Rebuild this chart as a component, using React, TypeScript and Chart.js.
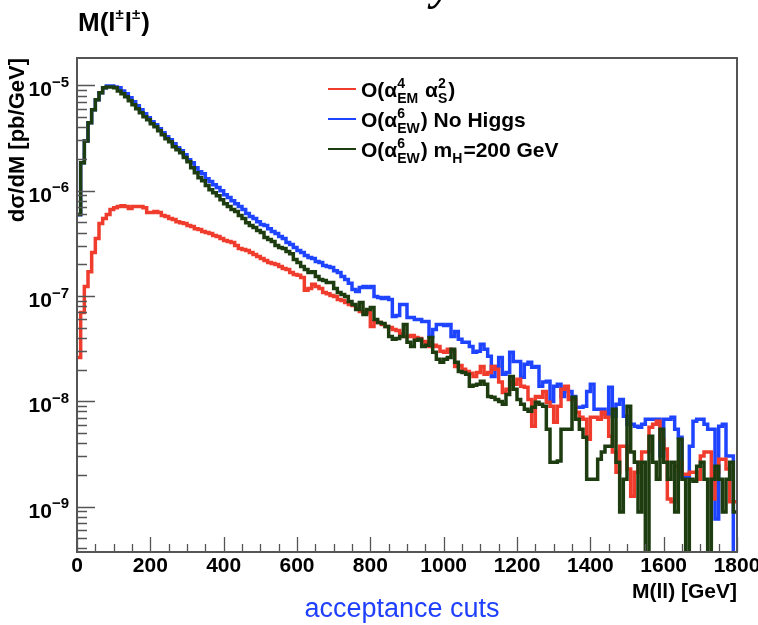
import React, { useEffect, useRef } from 'react';
import { Chart, registerables } from 'chart.js';

Chart.register(...registerables);

// ---------------- data ----------------
const MASS_MIN = 0; // GeV
const MASS_MAX = 1800; // GeV
const BIN_WIDTH = 10; // GeV
const Y_MIN = 3.7e-10;
const Y_MAX = 1.82e-5;

const xTickStep = 200;
const xMinorStep = 50;
const yDecades = [-9, -8, -7, -6, -5];

// O(alpha_EM^4 alpha_S^2)  (red)
const qcdValues = [
  2.61e-8, 6.98e-8, 1.23e-7, 1.70e-7, 2.58e-7, 3.51e-7, 4.87e-7, 5.43e-7, 5.93e-7, 6.61e-7,
  6.90e-7, 7.06e-7, 7.21e-7, 7.06e-7, 6.76e-7, 7.06e-7, 7.06e-7, 7.06e-7, 6.90e-7, 6.20e-7,
  6.20e-7, 6.33e-7, 6.20e-7, 5.80e-7, 5.68e-7, 5.43e-7, 5.31e-7, 5.08e-7, 4.97e-7, 4.87e-7,
  4.66e-7, 4.56e-7, 4.36e-7, 4.27e-7, 4.09e-7, 4.00e-7, 3.91e-7, 3.75e-7, 3.67e-7, 3.51e-7,
  3.36e-7, 3.29e-7, 3.22e-7, 3.01e-7, 2.82e-7, 2.76e-7, 2.70e-7, 2.58e-7, 2.47e-7, 2.37e-7,
  2.27e-7, 2.17e-7, 2.08e-7, 2.03e-7, 1.99e-7, 1.90e-7, 1.82e-7, 1.78e-7, 1.67e-7, 1.60e-7,
  1.57e-7, 1.50e-7, 1.13e-7, 1.18e-7, 1.29e-7, 1.23e-7, 1.18e-7, 1.08e-7, 1.05e-7, 1.01e-7,
  9.86e-8, 9.27e-8, 9.07e-8, 8.69e-8, 8.31e-8, 8.13e-8, 7.62e-8, 7.13e-8, 6.98e-8, 6.98e-8,
  5.14e-8, 5.73e-8, 5.61e-8, 5.37e-8, 5.14e-8, 5.03e-8, 4.81e-8, 4.71e-8, 4.41e-8, 4.13e-8,
  4.13e-8, 4.22e-8, 4.04e-8, 3.95e-8, 3.70e-8, 3.63e-8, 3.32e-8, 3.40e-8, 3.32e-8, 2.98e-8,
  2.92e-8, 3.11e-8, 2.98e-8, 2.14e-8, 2.19e-8, 2.01e-8, 1.92e-8, 1.84e-8, 1.72e-8, 1.88e-8,
  2.14e-8, 1.80e-8, 1.88e-8, 2.14e-8, 2.01e-8, 1.52e-8, 1.21e-8, 1.30e-8, 1.55e-8, 1.45e-8,
  1.62e-8, 1.39e-8, 1.36e-8, 1.04e-8, 5.79e-9, 1.11e-8, 1.09e-8, 1.24e-8, 9.79e-9, 8.97e-9,
  6.32e-9, 8.97e-9, 1.30e-8, 1.39e-8, 1.04e-8, 1.04e-8, 7.87e-9, 7.05e-9, 6.75e-9, 4.36e-9,
  7.05e-9, 7.05e-9, 6.75e-9, 7.87e-9, 7.05e-9, 4.66e-9, 3.29e-9, 2.12e-9, 3.74e-9, 3.74e-9,
  2.27e-9, 1.25e-9, 2.12e-9, 2.64e-9, 3.29e-9, 3.29e-9, 5.67e-9, 6.05e-9, 6.46e-9, 4.36e-9,
  3.51e-9, 1.18e-9, 1.11e-9, 2.42e-9, 2.64e-9, 2.03e-9, 2.03e-9, 2.12e-9, 2.12e-9, 1.82e-9,
  3.02e-9, 3.29e-9, 3.29e-9, 1.18e-9, 2.12e-9, 2.82e-9, 2.82e-9, 2.27e-9, 1.11e-9, 1.11e-9,
];

// O(alpha_EW^6) No Higgs  (blue)
const ewNoHiggsValues = [
  5.9e-7, 1.84e-6, 2.97e-6, 4.41e-6, 5.87e-6, 7.29e-6, 8.50e-6, 9.47e-6, 9.88e-6, 9.88e-6,
  9.67e-6, 9.47e-6, 8.86e-6, 8.31e-6, 7.62e-6, 6.98e-6, 6.40e-6, 5.87e-6, 5.37e-6, 4.92e-6,
  4.51e-6, 4.22e-6, 3.87e-6, 3.55e-6, 3.25e-6, 3.04e-6, 2.79e-6, 2.56e-6, 2.40e-6, 2.19e-6,
  1.97e-6, 1.84e-6, 1.65e-6, 1.51e-6, 1.45e-6, 1.30e-6, 1.22e-6, 1.14e-6, 1.07e-6, 9.98e-7,
  9.16e-7, 8.59e-7, 8.04e-7, 7.53e-7, 7.06e-7, 6.61e-7, 6.06e-7, 5.68e-7, 5.43e-7, 5.08e-7,
  4.76e-7, 4.66e-7, 4.36e-7, 4.09e-7, 3.91e-7, 3.67e-7, 3.51e-7, 3.22e-7, 3.08e-7, 2.88e-7,
  2.70e-7, 2.58e-7, 2.42e-7, 2.32e-7, 2.27e-7, 2.13e-7, 2.08e-7, 1.95e-7, 1.90e-7, 1.86e-7,
  1.74e-7, 1.67e-7, 1.53e-7, 1.43e-7, 1.32e-7, 1.15e-7, 1.10e-7, 1.20e-7, 1.23e-7, 1.20e-7,
  1.23e-7, 9.86e-8, 9.69e-8, 9.47e-8, 9.69e-8, 9.27e-8, 6.39e-8, 6.54e-8, 8.31e-8, 8.31e-8,
  6.26e-8, 6.26e-8, 5.99e-8, 5.99e-8, 5.73e-8, 5.73e-8, 4.13e-8, 4.81e-8, 5.37e-8, 5.37e-8,
  5.25e-8, 5.37e-8, 4.13e-8, 4.60e-8, 3.87e-8, 3.63e-8, 3.63e-8, 3.32e-8, 2.92e-8, 2.98e-8,
  3.47e-8, 3.11e-8, 2.67e-8, 1.72e-8, 2.14e-8, 2.61e-8, 1.80e-8, 1.88e-8, 2.92e-8, 2.39e-8,
  2.39e-8, 1.69e-8, 2.24e-8, 2.34e-8, 2.10e-8, 2.14e-8, 1.39e-8, 1.52e-8, 1.55e-8, 9.96e-9,
  1.39e-8, 1.45e-8, 1.11e-8, 1.36e-8, 1.24e-8, 1.11e-8, 8.78e-9, 8.78e-9, 8.97e-9, 1.24e-8,
  1.45e-8, 8.40e-9, 8.40e-9, 8.40e-9, 7.53e-9, 1.36e-8, 7.21e-9, 9.37e-9, 1.04e-8, 7.21e-9,
  6.05e-9, 6.05e-9, 5.79e-9, 5.67e-9, 6.05e-9, 6.75e-9, 6.75e-9, 6.75e-9, 6.75e-9, 3.02e-9,
  6.75e-9, 6.75e-9, 7.05e-9, 5.43e-9, 4.56e-9, 1.90e-9, 1.90e-9, 3.74e-9, 6.46e-9, 6.75e-9,
  6.75e-9, 6.05e-9, 5.43e-9, 5.43e-9, 7.61e-10, 5.79e-9, 6.05e-9, 3.02e-9, 3.02e-9, 2.0e-10,
];

// O(alpha_EW^6) m_H = 200 GeV  (dark green)
const ewHiggs200Values = [
  5.93e-7, 1.84e-6, 2.97e-6, 4.41e-6, 5.87e-6, 7.29e-6, 8.50e-6, 9.47e-6, 9.67e-6, 9.67e-6,
  9.47e-6, 8.86e-6, 8.31e-6, 7.78e-6, 7.13e-6, 6.54e-6, 6.00e-6, 5.49e-6, 5.03e-6, 4.71e-6,
  4.31e-6, 4.04e-6, 3.71e-6, 3.40e-6, 3.11e-6, 2.91e-6, 2.61e-6, 2.45e-6, 2.29e-6, 2.06e-6,
  1.88e-6, 1.65e-6, 1.48e-6, 1.33e-6, 1.24e-6, 1.12e-6, 1.02e-6, 9.56e-7, 8.96e-7, 8.22e-7,
  7.53e-7, 7.06e-7, 6.61e-7, 6.33e-7, 5.80e-7, 5.43e-7, 4.97e-7, 4.66e-7, 4.46e-7, 4.18e-7,
  4.00e-7, 3.59e-7, 3.43e-7, 3.29e-7, 3.01e-7, 2.88e-7, 2.82e-7, 2.64e-7, 2.52e-7, 2.22e-7,
  2.08e-7, 1.90e-7, 1.78e-7, 1.67e-7, 1.70e-7, 1.53e-7, 1.43e-7, 1.40e-7, 1.34e-7, 1.34e-7,
  1.18e-7, 1.08e-7, 1.03e-7, 9.86e-8, 8.87e-8, 8.31e-8, 7.45e-8, 8.69e-8, 6.68e-8, 7.45e-8,
  7.79e-8, 5.99e-8, 5.61e-8, 5.49e-8, 5.14e-8, 4.13e-8, 3.87e-8, 3.95e-8, 4.13e-8, 5.37e-8,
  3.63e-8, 3.32e-8, 3.79e-8, 3.87e-8, 3.32e-8, 3.40e-8, 4.04e-8, 2.92e-8, 2.50e-8, 2.34e-8,
  2.50e-8, 2.61e-8, 3.11e-8, 2.34e-8, 1.92e-8, 1.88e-8, 1.80e-8, 1.39e-8, 1.42e-8, 1.45e-8,
  1.55e-8, 1.45e-8, 1.11e-8, 1.09e-8, 1.04e-8, 9.96e-9, 9.37e-9, 1.16e-8, 1.72e-8, 1.30e-8,
  1.04e-8, 9.37e-9, 8.40e-9, 8.04e-9, 8.78e-9, 9.79e-9, 9.37e-9, 8.97e-9, 5.43e-9, 2.64e-9,
  2.64e-9, 2.70e-9, 5.43e-9, 5.43e-9, 5.43e-9, 1.09e-8, 6.75e-9, 5.43e-9, 4.56e-9, 1.82e-9,
  1.82e-9, 1.82e-9, 2.82e-9, 3.29e-9, 3.74e-9, 3.74e-9, 8.40e-9, 2.64e-9, 8.86e-10, 1.82e-9,
  8.97e-9, 3.29e-9, 2.64e-9, 8.86e-10, 2.64e-9, 2.0e-10, 4.66e-9, 2.64e-9, 1.82e-9, 5.43e-9,
  2.64e-9, 1.82e-9, 2.64e-9, 8.86e-10, 4.36e-9, 1.82e-9, 2.0e-10, 1.82e-9, 1.74e-9, 2.42e-9,
  2.64e-9, 1.82e-9, 2.0e-10, 1.82e-9, 2.42e-9, 1.82e-9, 8.86e-10, 1.82e-9, 2.64e-9, 8.86e-10,
];

const seriesNames = ['O(α_EM^4 α_S^2)', 'O(α_EW^6) No Higgs', 'O(α_EW^6) m_H=200 GeV'];

// ---------------- style ----------------
const FONT = '"Liberation Sans", Arial, Helvetica, sans-serif';
const RED = '#f03c2d';
const BLUE = '#1f44ff';
const GREEN = '#1d3d10';
const AXIS_COLOR = '#555555';

type Part = { t?: string; sup?: string; sub?: string };

const titleParts: Part[] = [{ t: 'M(l' }, { sup: '±' }, { t: 'l' }, { sup: '±' }, { t: ')' }];
const legendEntries: { color: string; parts: Part[] }[] = [
  { color: RED, parts: [{ t: 'O(α' }, { sup: '4', sub: 'EM' }, { t: ' α' }, { sup: '2', sub: 'S' }, { t: ')' }] },
  { color: BLUE, parts: [{ t: 'O(α' }, { sup: '6', sub: 'EW' }, { t: ') No Higgs' }] },
  { color: GREEN, parts: [{ t: 'O(α' }, { sup: '6', sub: 'EW' }, { t: ') m' }, { sub: 'H' }, { t: '=200 GeV' }] },
];

function richWidth(ctx: CanvasRenderingContext2D, parts: Part[], size: number, small: number) {
  let w = 0;
  for (const p of parts) {
    if (p.t !== undefined) {
      ctx.font = `bold ${size}px ${FONT}`;
      w += ctx.measureText(p.t).width;
    } else {
      ctx.font = `bold ${small}px ${FONT}`;
      const a = p.sup ? ctx.measureText(p.sup).width : 0;
      const b = p.sub ? ctx.measureText(p.sub).width : 0;
      w += Math.max(a, b) + 1;
    }
  }
  return w;
}

function drawRich(ctx: CanvasRenderingContext2D, x: number, baseline: number, parts: Part[], size: number, small: number, color: string) {
  let cx = x;
  ctx.fillStyle = color;
  ctx.textAlign = 'left';
  ctx.textBaseline = 'alphabetic';
  for (const p of parts) {
    if (p.t !== undefined) {
      ctx.font = `bold ${size}px ${FONT}`;
      ctx.fillText(p.t, cx, baseline);
      cx += ctx.measureText(p.t).width;
    } else {
      ctx.font = `bold ${small}px ${FONT}`;
      let w = 0;
      if (p.sup) {
        ctx.fillText(p.sup, cx, baseline - size * 0.45);
        w = Math.max(w, ctx.measureText(p.sup).width);
      }
      if (p.sub) {
        ctx.fillText(p.sub, cx, baseline + size * 0.3);
        w = Math.max(w, ctx.measureText(p.sub).width);
      }
      cx += w + 1;
    }
  }
}

const rootStyle = {
  id: 'rootStyle',
  afterDraw(chart: any) {
    const { ctx, chartArea: a, scales } = chart;
    const xs = scales.x;
    const ys = scales.y;
    ctx.save();

    // inner ticks
    ctx.strokeStyle = AXIS_COLOR;
    ctx.lineWidth = 1.3;
    ctx.beginPath();
    for (let m = MASS_MIN; m <= MASS_MAX; m += xMinorStep) {
      const px = Math.round(xs.getPixelForValue(m)) + 0.5;
      const len = m % xTickStep === 0 ? 15 : 8;
      ctx.moveTo(px, a.bottom);
      ctx.lineTo(px, a.bottom - len);
    }
    for (let e = -10; e <= -4; e++) {
      for (let k = 1; k <= 9; k++) {
        const v = k * Math.pow(10, e);
        if (v < Y_MIN || v > Y_MAX) continue;
        const py = Math.round(ys.getPixelForValue(v)) + 0.5;
        const len = k === 1 ? 18 : 10;
        ctx.moveTo(a.left, py);
        ctx.lineTo(a.left + len, py);
      }
    }
    ctx.stroke();

    // frame
    ctx.lineWidth = 2;
    ctx.strokeStyle = AXIS_COLOR;
    ctx.strokeRect(a.left, a.top, a.right - a.left, a.bottom - a.top);

    // y tick labels 10^n
    for (const e of yDecades) {
      const py = ys.getPixelForValue(Math.pow(10, e));
      const parts: Part[] = [{ t: '10' }, { sup: '\u2212' + String(-e) }];
      const w = richWidth(ctx, parts, 21, 15);
      drawRich(ctx, 70 - w, py + 11, parts, 21, 15, '#000');
    }

    // title
    drawRich(ctx, 78, 31, titleParts, 26, 15, '#000');

    // legend
    legendEntries.forEach((entry, i) => {
      const base = 97 + i * 30;
      ctx.strokeStyle = entry.color;
      ctx.lineWidth = 2;
      ctx.beginPath();
      ctx.moveTo(328, base - 8);
      ctx.lineTo(356, base - 8);
      ctx.stroke();
      drawRich(ctx, 361, base, entry.parts, 21, 14, '#000');
    });

    // caption
    ctx.fillStyle = '#2040ff';
    ctx.font = `27px ${FONT}`;
    ctx.textAlign = 'center';
    ctx.textBaseline = 'alphabetic';
    ctx.fillText('acceptance cuts', 402, 617);

    // cropped glyph from the slide title above
    ctx.fillStyle = '#000';
    ctx.font = 'italic bold 44px "Liberation Serif", serif';
    ctx.textAlign = 'left';
    ctx.fillText('y', 432, 0);

    ctx.restore();
  },
};

function toPoints(vals: number[]) {
  const pts = vals.map((v, i) => ({ x: MASS_MIN + i * BIN_WIDTH, y: v }));
  pts.push({ x: MASS_MAX, y: vals[vals.length - 1] });
  return pts;
}

export default function App() {
  const ref = useRef<HTMLCanvasElement>(null);

  useEffect(() => {
    const canvas = ref.current;
    if (!canvas) return;
    const lineCommon = {
      stepped: 'before' as const,
      borderWidth: 3.5,
      pointRadius: 0,
      fill: false,
      borderJoinStyle: 'miter' as const,
      borderCapStyle: 'butt' as const,
    };
    const chart = new Chart(canvas, {
      type: 'line',
      data: {
        datasets: [
          { ...lineCommon, label: seriesNames[0], data: toPoints(qcdValues), borderColor: RED, order: 1 },
          { ...lineCommon, label: seriesNames[1], data: toPoints(ewNoHiggsValues), borderColor: BLUE, order: 2 },
          { ...lineCommon, label: seriesNames[2], data: toPoints(ewHiggs200Values), borderColor: GREEN, order: 0 },
        ],
      },
      options: {
        responsive: false,
        animation: false,
        events: [],
        layout: { padding: { top: 58, right: 21, bottom: 0, left: 0 } },
        plugins: {
          legend: { display: false },
          title: { display: false },
          tooltip: { enabled: false },
        },
        scales: {
          x: {
            type: 'linear',
            min: MASS_MIN,
            max: MASS_MAX,
            grid: { display: false, drawTicks: false },
            border: { display: false },
            ticks: {
              stepSize: xTickStep,
              autoSkip: false,
              maxRotation: 0,
              padding: 2,
              color: '#000',
              font: { family: FONT, size: 21, weight: 'bold' },
              callback: (v: any) => String(v),
            },
            title: {
              display: true,
              text: 'M(ll) [GeV]',
              align: 'end',
              color: '#000',
              font: { family: FONT, size: 21, weight: 'bold' },
              padding: { top: 0, bottom: 20 },
            },
            afterFit: (s: any) => {
              s.height = 73;
              s.paddingLeft = 0;
              s.paddingRight = 0;
            },
          },
          y: {
            type: 'logarithmic',
            min: Y_MIN,
            max: Y_MAX,
            grid: { display: false, drawTicks: false },
            border: { display: false },
            ticks: { display: false },
            title: {
              display: true,
              text: 'dσ/dM [pb/GeV]',
              align: 'end',
              color: '#000',
              font: { family: FONT, size: 22, weight: 'bold' },
              padding: { top: 5, bottom: 0 },
            },
            afterFit: (s: any) => {
              s.width = 77;
              s.paddingTop = 0;
              s.paddingBottom = 0;
            },
          },
        },
      } as any,
      plugins: [rootStyle],
    });
    return () => chart.destroy();
  }, []);

  return (
    <div style={{ position: 'absolute', left: 0, top: 0, width: 758, height: 625, background: '#fff' }}>
      <canvas ref={ref} width={758} height={625} style={{ display: 'block', width: 758, height: 625 }} />
    </div>
  );
}
